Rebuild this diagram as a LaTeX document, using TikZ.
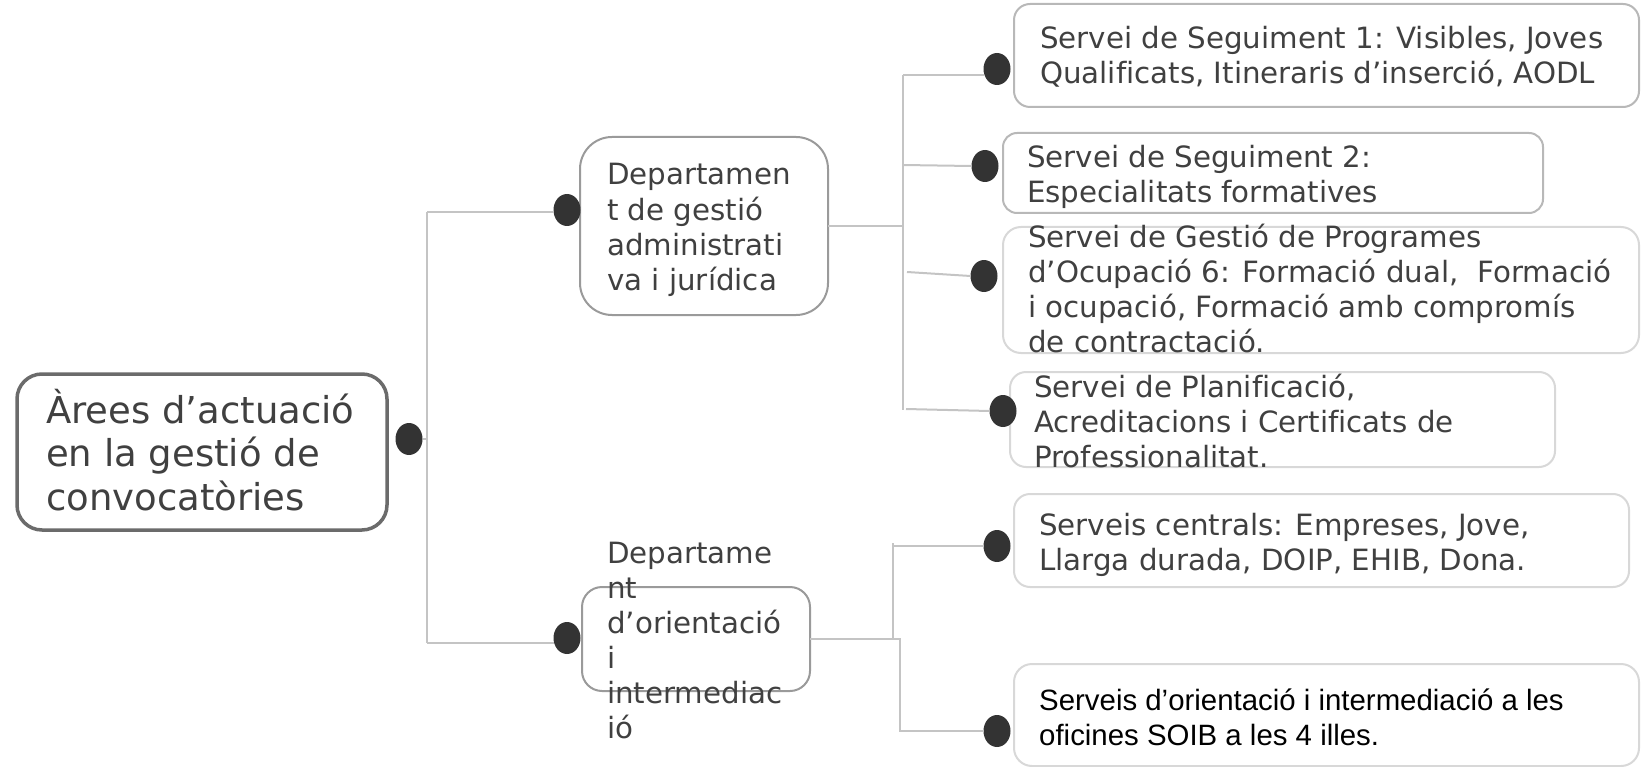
\documentclass[tikz,border=0pt]{standalone}
\usepackage{fontspec}
\setmainfont{DejaVu Sans}[Ligatures=CommonOff]
\newfontfamily\arialfont{Liberation Sans}[Ligatures=CommonOff]
\usetikzlibrary{shapes.geometric}
\definecolor{txtc}{HTML}{404040}
\definecolor{dotc}{HTML}{333333}
\definecolor{connc}{HTML}{C4C4C4}
\definecolor{rootc}{HTML}{6B6B6B}
\definecolor{deptc}{HTML}{9A9A9A}
\definecolor{srvA}{HTML}{B8B8B8}
\definecolor{srvB}{HTML}{D8D8D8}
\tikzset{
  box/.style={draw, rectangle, inner sep=0pt, outer sep=0pt, fill=white},
  rootbox/.style={box, draw=rootc, line width=3.5pt, rounded corners=25pt},
  deptbox/.style={box, draw=deptc, line width=2pt},
  srvbox/.style={box, line width=2pt, rounded corners=16pt},
  dotnode/.style={ellipse, fill=dotc, draw=none, inner sep=0pt, outer sep=0pt, minimum width=27pt, minimum height=32pt},
  conn/.style={draw=connc, line width=2pt},
  roottxt/.style={anchor=base west, inner sep=0pt, align=left, text=txtc, font=\fontsize{37}{43.5}\selectfont},
  txt/.style={anchor=base west, inner sep=0pt, align=left, text=txtc, font=\fontsize{29.3}{35}\selectfont},
  arialtxt/.style={anchor=base west, inner sep=0pt, align=left, text=black, font=\arialfont\fontsize{29.4}{35}\selectfont}
}
\begin{document}
\begin{tikzpicture}[x=1pt,y=-1pt]
\useasboundingbox (0,0) rectangle (1645,767);

% boxes
\node[rootbox, minimum width=370pt, minimum height=156pt] (root) at (202,452) {};
\node[deptbox, rounded corners=32pt, minimum width=248pt, minimum height=178pt] (d1) at (704,226) {};
\node[deptbox, rounded corners=20pt, minimum width=228pt, minimum height=104pt] (d2) at (696,639) {};
\node[srvbox, draw=srvA, minimum width=625pt, minimum height=103pt] (s1) at (1326.5,55.5) {};
\node[srvbox, draw=srvA, rounded corners=14pt, minimum width=540pt, minimum height=80pt] (s2) at (1273,173) {};
\node[srvbox, draw=srvB, rounded corners=18pt, minimum width=636pt, minimum height=126pt] (s3) at (1321,290) {};
\node[srvbox, draw=srvB, minimum width=545pt, minimum height=95pt] (s4) at (1282.5,419.5) {};
\node[srvbox, draw=srvB, minimum width=615pt, minimum height=93pt] (s5) at (1321.5,540.5) {};
\node[srvbox, draw=srvB, rounded corners=18pt, minimum width=625pt, minimum height=102pt] (s6) at (1326.5,715) {};

% junction coordinates
\coordinate (ja1) at (427,212);
\coordinate (ja2) at (427,643);
\coordinate (jr) at (427,439);
\coordinate (jb) at (903,226);
\coordinate (jb1) at (903,75);
\coordinate (jb2) at (903,165);
\coordinate (jb3) at (907,272);
\coordinate (jb4) at (903,410);
\coordinate (jb4s) at (906,409);
\coordinate (jc) at (893,639);
\coordinate (jc1) at (893,543);
\coordinate (jc1s) at (893,546);
\coordinate (jd) at (900,639);

% dots
\node[dotnode] (rdot) at (409,439) {};
\node[dotnode] (d1dot) at (567,210) {};
\node[dotnode] (d2dot) at (567,638) {};
\node[dotnode] (s1dot) at (997,69) {};
\node[dotnode] (s2dot) at (985,166) {};
\node[dotnode] (s3dot) at (984,276) {};
\node[dotnode] (s4dot) at (1003,411) {};
\node[dotnode] (s5dot) at (997,546) {};
\node[dotnode] (s6dot) at (997,731) {};

% connectors
\draw[conn] (rdot.east) -- (jr);
\draw[conn] (ja1) -- (ja2);
\draw[conn] (ja1) -- (ja1 -| d1dot.west);
\draw[conn] (ja2) -- (ja2 -| d2dot.west);
\draw[conn] (d1.east) -- (jb);
\draw[conn] (jb1) -- (jb4);
\draw[conn] (jb1) -- (jb1 -| s1dot.west);
\draw[conn] (jb2) -- (s2dot.west);
\draw[conn] (jb3) -- (s3dot.west);
\draw[conn] (jb4s) -- (s4dot.west);
\draw[conn] (d2.east) -- (jc) -- (jc1);
\draw[conn] (jc1s) -- (s5dot.west);
\draw[conn] (d2.east) -- (jd) |- (s6dot.west);

% texts (anchor = baseline of the last line)
\node[roottxt] (troot) at (46,510) {Àrees d’actuació\\en la gestió de\\convocatòries};
\node[txt] (td1) at (607,290) {Departamen\\t de gestió\\administrati\\va i jurídica};
\node[txt] (td2) at (607,738) {Departame\\nt\\d’orientació\\i\\intermediac\\ió};
\node[txt] (ts1) at (1040,84) {Servei de Seguiment 1: Visibles, Joves\\Qualificats, Itineraris d’inserció, AODL};
\node[txt] (ts2) at (1027,203) {Servei de Seguiment 2:\\Especialitats formatives};
\node[txt] (ts3) at (1028,352) {Servei de Gestió de Programes\\d’Ocupació 6: Formació dual,~ Formació\\i ocupació, Formació amb compromís\\de contractació.};
\node[txt] (ts4) at (1034,467) {Servei de Planificació,\\Acreditacions i Certificats de\\Professionalitat.};
\node[txt] (ts5) at (1039,570) {Serveis centrals: Empreses, Jove,\\Llarga durada, DOIP, EHIB, Dona.};
\node[arialtxt] (ts6) at (1039,745) {Serveis d’orientació i intermediació a les\\oficines SOIB a les 4 illes.};
\end{tikzpicture}
\end{document}
